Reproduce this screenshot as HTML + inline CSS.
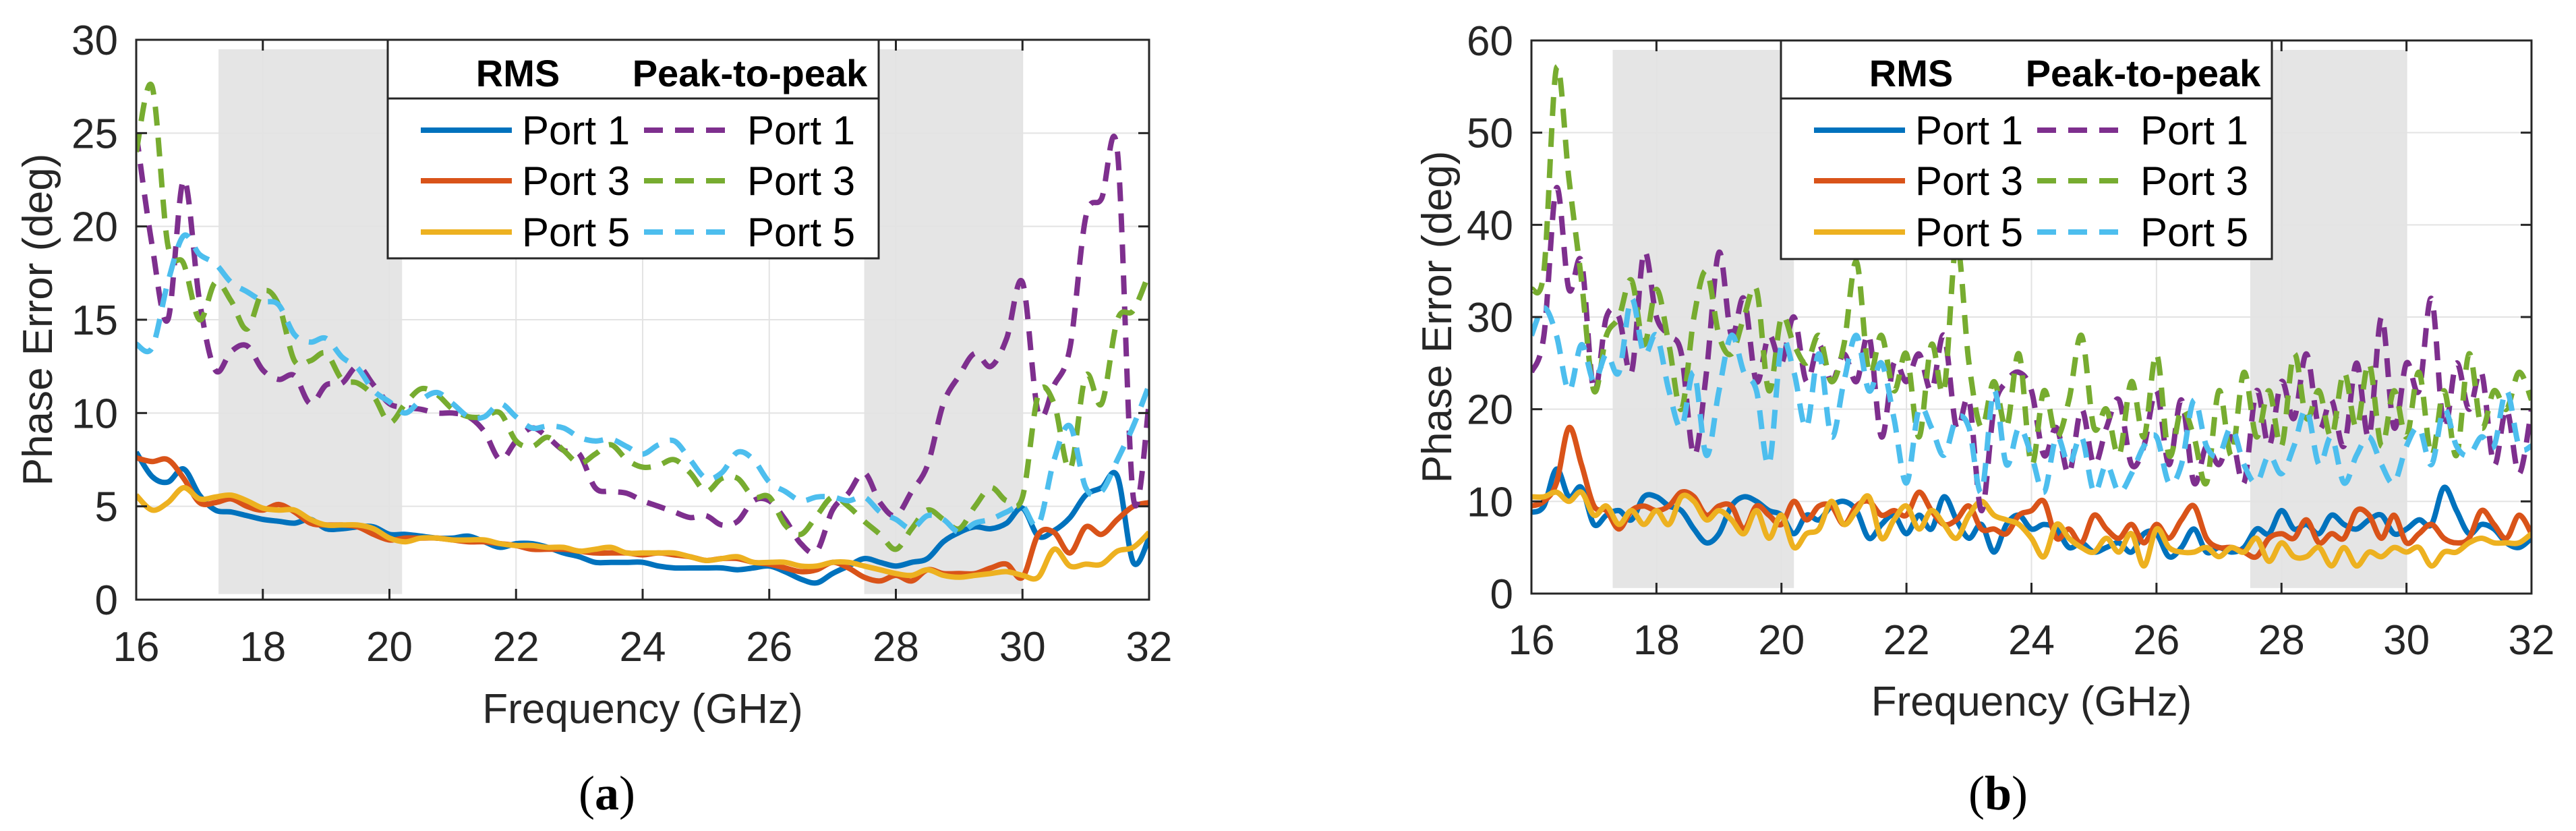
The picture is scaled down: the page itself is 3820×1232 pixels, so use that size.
<!DOCTYPE html>
<html><head><meta charset="utf-8"><style>
html,body{margin:0;padding:0;background:#fff;}
svg{display:block;font-family:"Liberation Sans",Arial,sans-serif;}
</style></head><body>
<svg id="fig" width="3820" height="1232" viewBox="0 0 3820 1232" xmlns="http://www.w3.org/2000/svg">
<defs>
<clipPath id="clipA"><rect x="202" y="59" width="1502" height="830"/></clipPath>
<clipPath id="clipB"><rect x="2271" y="60" width="1483" height="820"/></clipPath>
</defs>
<g id="panelA"></g>
<g id="panelB"></g>
<text x="900" y="1200" text-anchor="middle" font-family="Liberation Serif,serif" font-size="72">(<tspan font-weight="bold">a</tspan>)</text>
<text x="2963" y="1200" text-anchor="middle" font-family="Liberation Serif,serif" font-size="72">(<tspan font-weight="bold">b</tspan>)</text>
</svg>
<script>
// ---- Panel (a) data ----
const aRmsP1 = [7.9,6.6,6.3,7.0,5.6,4.8,4.7,4.5,4.3,4.2,4.1,4.3,3.8,3.8,3.9,3.9,3.5,3.5,3.4,3.3,3.3,3.4,3.1,2.8,3.0,3.0,2.8,2.5,2.3,2.0,2.0,2.0,2.0,1.8,1.7,1.7,1.7,1.7,1.6,1.7,1.8,1.5,1.1,0.9,1.4,1.8,2.2,2.0,1.8,2.0,2.2,3.1,3.6,3.9,3.8,4.1,4.9,3.4,3.7,4.4,5.6,6.0,6.6,2.0,3.3];
const aRmsP3 = [7.6,7.4,7.5,6.5,5.2,5.2,5.4,5.0,4.8,5.1,4.7,4.1,4.0,4.0,3.9,3.5,3.2,3.3,3.3,3.3,3.2,3.1,3.1,3.0,2.9,2.7,2.7,2.7,2.6,2.5,2.5,2.5,2.4,2.5,2.4,2.3,2.1,2.2,2.2,2.0,1.9,1.7,1.5,1.6,2.0,1.7,1.2,1.0,1.3,1.0,1.6,1.4,1.4,1.4,1.7,1.9,1.2,3.5,3.6,2.5,3.9,3.5,4.3,5.0,5.2];
const aRmsP5 = [5.6,4.8,5.2,6.0,5.4,5.5,5.6,5.3,4.9,4.8,4.8,4.3,4.0,4.0,4.0,3.8,3.3,3.1,3.3,3.3,3.2,3.2,3.2,3.0,2.9,2.9,2.8,2.8,2.6,2.7,2.8,2.5,2.5,2.5,2.5,2.3,2.1,2.2,2.3,2.0,2.0,2.0,1.8,1.8,2.0,2.0,1.8,1.6,1.4,1.3,1.6,1.3,1.2,1.3,1.4,1.5,1.3,1.2,2.7,1.8,1.9,1.9,2.6,2.8,3.6];
const aPkP1 = [25,19,15,22.5,16,12.3,13.3,13.6,12.3,11.8,12,10.5,11.5,11.6,12.5,11.5,10.5,10.3,10.2,10.0,10.0,9.8,9.0,7.5,8.5,9.2,8.7,8.0,7.8,6.0,5.8,5.7,5.3,5.0,4.7,4.4,4.5,4.0,4.2,5.3,5.3,4.3,3.0,2.6,4.8,5.7,6.8,5.2,4.5,5.8,7.2,10.5,12.0,13.2,12.5,14,17,10.0,11.5,13.5,20.5,21.5,24,5.5,10.5];
const aPkP3 = [24,27.5,19,18,15,17,16,14.5,16.5,15.8,12.8,12.8,13.2,11.8,11.6,10.9,9.5,10.5,11.3,11.0,10.2,9.8,9.8,10.0,8.5,8.2,8.7,8.0,7.3,7.8,8.3,7.5,7.1,7.2,7.5,6.8,5.8,6.5,6.5,5.5,5.5,4.0,3.5,4.5,5.5,5.0,4.2,3.5,2.7,3.8,4.8,4.3,3.8,5.0,6.0,5.3,5.5,11,10.5,7,12,10.5,15,15.5,17.5];
const aPkP5 = [13.7,13.5,17,19.5,18.5,18.0,17.0,16.5,16.0,15.8,14.2,13.8,14.0,13.0,12.4,11.2,10.6,10.0,10.7,11.1,10.5,9.8,9.8,10.5,9.8,9.2,9.3,9.2,8.7,8.5,8.6,8.2,7.8,8.3,8.5,7.5,6.5,6.8,7.9,7.5,6.3,5.8,5.3,5.5,5.5,5.3,5.5,4.7,4.3,3.8,4.5,4.3,3.6,4.1,4.3,4.7,5.0,4.0,7.5,9.3,6.0,5.8,7.5,9.3,11.5];
// ---- Panel (b) data ----
const bRmsP1 = [8.8,9.5,13.5,10.5,11.5,7.5,8.5,9.0,8.0,10.5,10.5,9.5,9.0,7.0,5.5,6.5,9.5,10.5,10.0,9.0,8.5,6.5,8.5,8.0,9.5,10.0,9.0,6.0,7.5,8.5,6.5,8.5,7.0,10.5,8.0,6.0,7.5,4.5,7.5,8.5,7.0,7.5,7.0,5.0,5.5,4.5,5.0,5.5,4.5,6.5,6.5,4.0,5.0,7.0,4.5,5.0,4.5,5.0,7.0,6.5,9.0,7.0,7.5,6.5,8.5,7.5,7.0,8.0,8.5,6.5,7.0,8.0,7.5,11.5,9.0,6.5,7.5,7.0,5.5,5.0,6.0];
const bRmsP3 = [9.5,10,12,18,14,9.5,9,7,9,9.5,9,9.5,11,10.5,8.5,9.5,9.5,7,9.5,8.5,7.5,10,8,9.5,9.5,7.5,9.5,10,8.5,9,8.5,11,9,7.5,8,9.5,7,7,6.5,8.5,9,10,6,7,5.5,8.5,7,6,7.5,5.5,7.5,6,8,9.5,6,5,5,4.5,4,6,6.5,6,8,5.5,6.5,6,9,8.5,6,8.5,5.5,6.5,7.5,6,5.5,6,9,7.5,6,8.5,6.5];
const bRmsP5 = [10.5,10.5,11,10,11,8.5,9.5,7.5,9,7.5,9,7.5,10.5,10,8,9,8,6.5,9,6,8.5,5,6.5,7,10,7.5,9,10.5,6,8,9.5,7,9,7.5,6,8.5,10,8.5,8,7.5,6,4,7.5,6,5,4.5,6,4.5,6.5,3,7,5,4.5,4.5,5,4,5,4.5,6,3.5,5.5,4,4,5,3,5,3,4.5,4,5,4.5,5,3,4.5,4.5,5.5,6,5.5,5.5,5.5,6.5];
const bPkP1 = [24,28,44,33,36,22,30,30,24,37,30,28,26,15,24,37,28,32,23,28,25,30,23,27,23,26,23,28,17,25,23,26,22,28,18,21,9,20,23,24,22,15,18,13,20,14,18,21,14,16,22,14,21,12,16,14,17,12,22,16,23,19,26,18,21,16,25,17,30,18,25,22,32,18,25,20,24,14,20,13,20];
const bPkP3 = [33,35,57,45,34,22,28,30,34,27,33,27,20,30,35,28,26,30,33,22,30,27,25,28,23,27,36,24,28,22,26,17,27,22,38,25,18,23,18,26,14,22,17,21,28,18,20,15,23,17,26,15,20,17,12,22,15,24,17,22,16,26,19,22,17,24,18,25,16,22,17,24,15,22,15,26,18,22,20,24,21];
const bPkP5 = [28,31,28,22,27,23,26,24,32,26,28,22,18,24,15,22,28,24,22,14,27,24,18,26,17,23,28,22,25,19,12,20,18,15,19,18,11,22,14,18,15,11,17,14,17,11,14,11,13,16,17,12,14,21,16,15,18,14,12,15,13,16,20,14,17,12,15,17,14,12,16,18,14,20,16,15,17,16,22,16,16];
const xTickLabels = ["16","18","20","22","24","26","28","30","32"];
const aYTickLabels = ["0","5","10","15","20","25","30"];
const bYTickLabels = ["0","10","20","30","40","50","60"];
const shadeBands = [[17.3,20.2],[27.5,30.0]];

const NS="http://www.w3.org/2000/svg";
function mk(tag, attrs, parent){const e=document.createElementNS(NS,tag);for(const k in attrs)e.setAttribute(k,attrs[k]);parent.appendChild(e);return e;}
function smooth(pts){
  let d='M'+pts[0][0].toFixed(1)+' '+pts[0][1].toFixed(1);
  for(let i=0;i<pts.length-1;i++){
    const p0=pts[Math.max(0,i-1)],p1=pts[i],p2=pts[i+1],p3=pts[Math.min(pts.length-1,i+2)];
    const c1x=p1[0]+(p2[0]-p0[0])/6,c1y=p1[1]+(p2[1]-p0[1])/6;
    const c2x=p2[0]-(p3[0]-p1[0])/6,c2y=p2[1]-(p3[1]-p1[1])/6;
    d+=' C'+c1x.toFixed(1)+' '+c1y.toFixed(1)+' '+c2x.toFixed(1)+' '+c2y.toFixed(1)+' '+p2[0].toFixed(1)+' '+p2[1].toFixed(1);
  }
  return d;
}

function drawPanel(g, P, series, yLabels, clip){
  const sx=f=>P.x0+(f-16)/16*(P.x1-P.x0);
  const sy=v=>P.y0-v/P.ymax*(P.y0-P.y1);
  shadeBands.forEach(b=>{
    const r=mk('rect',{x:sx(b[0]),y:sy(P.ymax*0.983),width:sx(b[1])-sx(b[0]),height:sy(P.ymax*0.01)-sy(P.ymax*0.983),fill:'#e5e5e5'},g);
    
    
  });
  xTickLabels.forEach(t=>{const x=sx(+t);
    const l=mk('line',{x1:x,x2:x,y1:P.y0,y2:P.y1,stroke:'#e3e3e3','stroke-width':2},g);
    
    });
  yLabels.forEach(t=>{const y=sy(+t);
    const l=mk('line',{x1:P.x0,x2:P.x1,y1:y,y2:y,stroke:'#e3e3e3','stroke-width':2},g);
    
    });
  const sg=mk('g',{'clip-path':'url(#'+clip+')'},g);
  series.forEach(s=>{
    const n=s.data.length;
    const pts=s.data.map((v,i)=>[sx(16+i*16/(n-1)),sy(v)]);
    const p=mk('path',{d:smooth(pts),fill:'none',stroke:s.color,'stroke-width':8,'stroke-linejoin':'round','stroke-dasharray':s.dash?'28 18':'none'},sg);
    
    
  });
  const bx=mk('rect',{x:P.x0,y:P.y1,width:P.x1-P.x0,height:P.y0-P.y1,fill:'none',stroke:'#262626','stroke-width':3},g);
  
  
  xTickLabels.forEach(t=>{const x=sx(+t);
    mk('line',{x1:x,x2:x,y1:P.y0,y2:P.y0-16,stroke:'#262626','stroke-width':3},g);
    mk('line',{x1:x,x2:x,y1:P.y1,y2:P.y1+16,stroke:'#262626','stroke-width':3},g);
    const tx=mk('text',{x:x,y:P.xlabY,'text-anchor':'middle','font-size':62,fill:'#262626'},g);
    tx.textContent=t;
    
    });
  yLabels.forEach(t=>{const y=sy(+t);
    mk('line',{x1:P.x0,x2:P.x0+16,y1:y,y2:y,stroke:'#262626','stroke-width':3},g);
    mk('line',{x1:P.x1,x2:P.x1-16,y1:y,y2:y,stroke:'#262626','stroke-width':3},g);
    const tx=mk('text',{x:P.x0-27,y:y+22,'text-anchor':'end','font-size':62,fill:'#262626'},g);
    tx.textContent=t;
    
    });
  const xl=mk('text',{x:(P.x0+P.x1)/2,y:P.xtitleY,'text-anchor':'middle','font-size':62,fill:'#262626'},g);
  xl.textContent='Frequency (GHz)';
  
  
  const yc=(P.y0+P.y1)/2;
  const yl=mk('text',{x:P.ytitleX,y:yc,'text-anchor':'middle','font-size':62,fill:'#262626',transform:'rotate(-90 '+P.ytitleX+' '+yc+')'},g);
  yl.textContent='Phase Error (deg)';
  
  
  const L=P.leg;
  const lg=mk('g',{},g);
  
  
  mk('rect',{x:L,y:P.y1,width:728,height:324,fill:'#fff',stroke:'#262626','stroke-width':3},lg);
  mk('line',{x1:L,x2:L+728,y1:146,y2:146,stroke:'#262626','stroke-width':3},lg);
  const h1=mk('text',{x:L+193,y:128,'text-anchor':'middle','font-size':56,'font-weight':'bold'},lg);h1.textContent='RMS';
  const h2=mk('text',{x:L+537,y:128,'text-anchor':'middle','font-size':56,'font-weight':'bold'},lg);h2.textContent='Peak-to-peak';
  const rows=[193,268,344], labs=['Port 1','Port 3','Port 5'];
  rows.forEach((ry,i)=>{
    mk('line',{x1:L+49,x2:L+184,y1:ry,y2:ry,stroke:series[i].color,'stroke-width':8},lg);
    const t1=mk('text',{x:L+199,y:ry+21,'font-size':60,fill:'#000'},lg);t1.textContent=labs[i];
    
    
    mk('line',{x1:L+380,x2:L+518,y1:ry,y2:ry,stroke:series[i+3].color,'stroke-width':8,'stroke-dasharray':'28 18'},lg);
    const t2=mk('text',{x:L+533,y:ry+21,'font-size':60,fill:'#000'},lg);t2.textContent=labs[i];
    
    
  });
}
const C={b:'#0072BD',o:'#D95319',y:'#EDB120',p:'#7E2F8E',g:'#77AC30',c:'#4DBEEE'};
drawPanel(document.getElementById('panelA'),
  {x0:202,x1:1704,y0:889,y1:59,ymax:30,xlabY:980,xtitleY:1072,ytitleX:77,leg:575},
  [{data:aRmsP1,color:C.b,name:'rms-port-1'},{data:aRmsP3,color:C.o,name:'rms-port-3'},{data:aRmsP5,color:C.y,name:'rms-port-5'},
   {data:aPkP1,color:C.p,dash:1,name:'pk-port-1'},{data:aPkP3,color:C.g,dash:1,name:'pk-port-3'},{data:aPkP5,color:C.c,dash:1,name:'pk-port-5'}],
  aYTickLabels,'clipA');
drawPanel(document.getElementById('panelB'),
  {x0:2271,x1:3754,y0:880,y1:60,ymax:60,xlabY:970,xtitleY:1061,ytitleX:2152,leg:2641},
  [{data:bRmsP1,color:C.b,name:'rms-port-1'},{data:bRmsP3,color:C.o,name:'rms-port-3'},{data:bRmsP5,color:C.y,name:'rms-port-5'},
   {data:bPkP1,color:C.p,dash:1,name:'pk-port-1'},{data:bPkP3,color:C.g,dash:1,name:'pk-port-3'},{data:bPkP5,color:C.c,dash:1,name:'pk-port-5'}],
  bYTickLabels,'clipB');
</script>
</body></html>
